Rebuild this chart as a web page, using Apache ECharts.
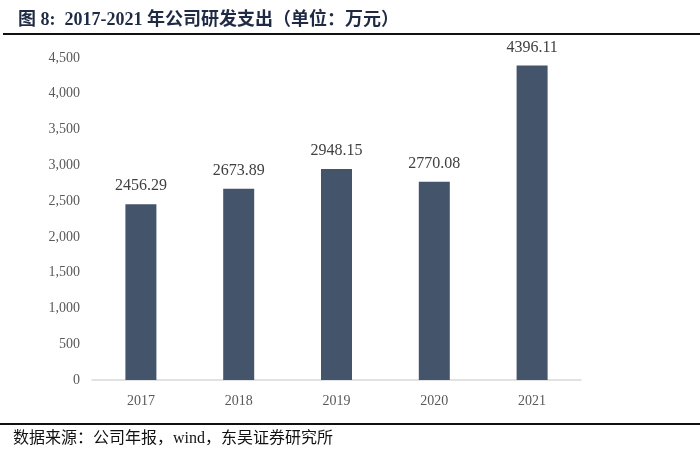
<!DOCTYPE html>
<html><head><meta charset="utf-8">
<script src="https://cdn.jsdelivr.net/npm/echarts@6/dist/echarts.min.js"></script>
<style>html,body{margin:0;padding:0;background:#fff}#c{width:700px;height:464px}</style>
</head><body><div id="c"></div>
<script>
var categories = ['2017','2018','2019','2020','2021'];
var values = [2456.29, 2673.89, 2948.15, 2770.08, 4396.11];
var yTicks = [0,500,1000,1500,2000,2500,3000,3500,4000,4500];

var chart = echarts.init(document.getElementById('c'));
chart.setOption({
  backgroundColor:'#fff',
  animation:false,
  title:{
    text:'图 8:  2017-2021 年公司研发支出（单位：万元）',
    left:13, top:6,
    textStyle:{fontFamily:'"Liberation Serif","Noto Sans CJK SC",serif',fontSize:18,fontWeight:'bold',color:'#1f2a44'}
  },
  graphic:[
    {type:'line',shape:{x1:3,y1:34,x2:700,y2:34},style:{stroke:'#111',lineWidth:2}},
    {type:'line',shape:{x1:0,y1:424,x2:700,y2:424},style:{stroke:'#111',lineWidth:2}},
    {type:'text',left:13,top:431,style:{text:'数据来源：公司年报，wind，东吴证券研究所',font:'16px "Liberation Serif","Noto Sans CJK SC",serif',fill:'#111'}}
  ],
  grid:{left:92,right:119,top:58,bottom:84},
  xAxis:{
    type:'category',data:categories,
    axisLine:{lineStyle:{color:'#d9d9d9',width:1.5}},
    axisTick:{show:false},
    axisLabel:{color:'#595959',fontFamily:'"Liberation Serif",serif',fontSize:14,margin:14}
  },
  yAxis:{
    type:'value',min:yTicks[0],max:yTicks[yTicks.length-1],interval:500,
    axisLine:{show:false},axisTick:{show:false},splitLine:{show:false},
    axisLabel:{color:'#595959',fontFamily:'"Liberation Serif",serif',fontSize:14,margin:12,
      formatter:function(v){return v.toLocaleString('en-US');}}
  },
  series:[{
    type:'bar',data:values,barWidth:31,
    itemStyle:{color:'#44546a'},
    label:{show:true,position:'top',distance:10,color:'#404040',fontFamily:'"Liberation Serif",serif',fontSize:16,
      formatter:function(p){return p.value.toFixed(2);}}
  }]
});
</script></body></html>
